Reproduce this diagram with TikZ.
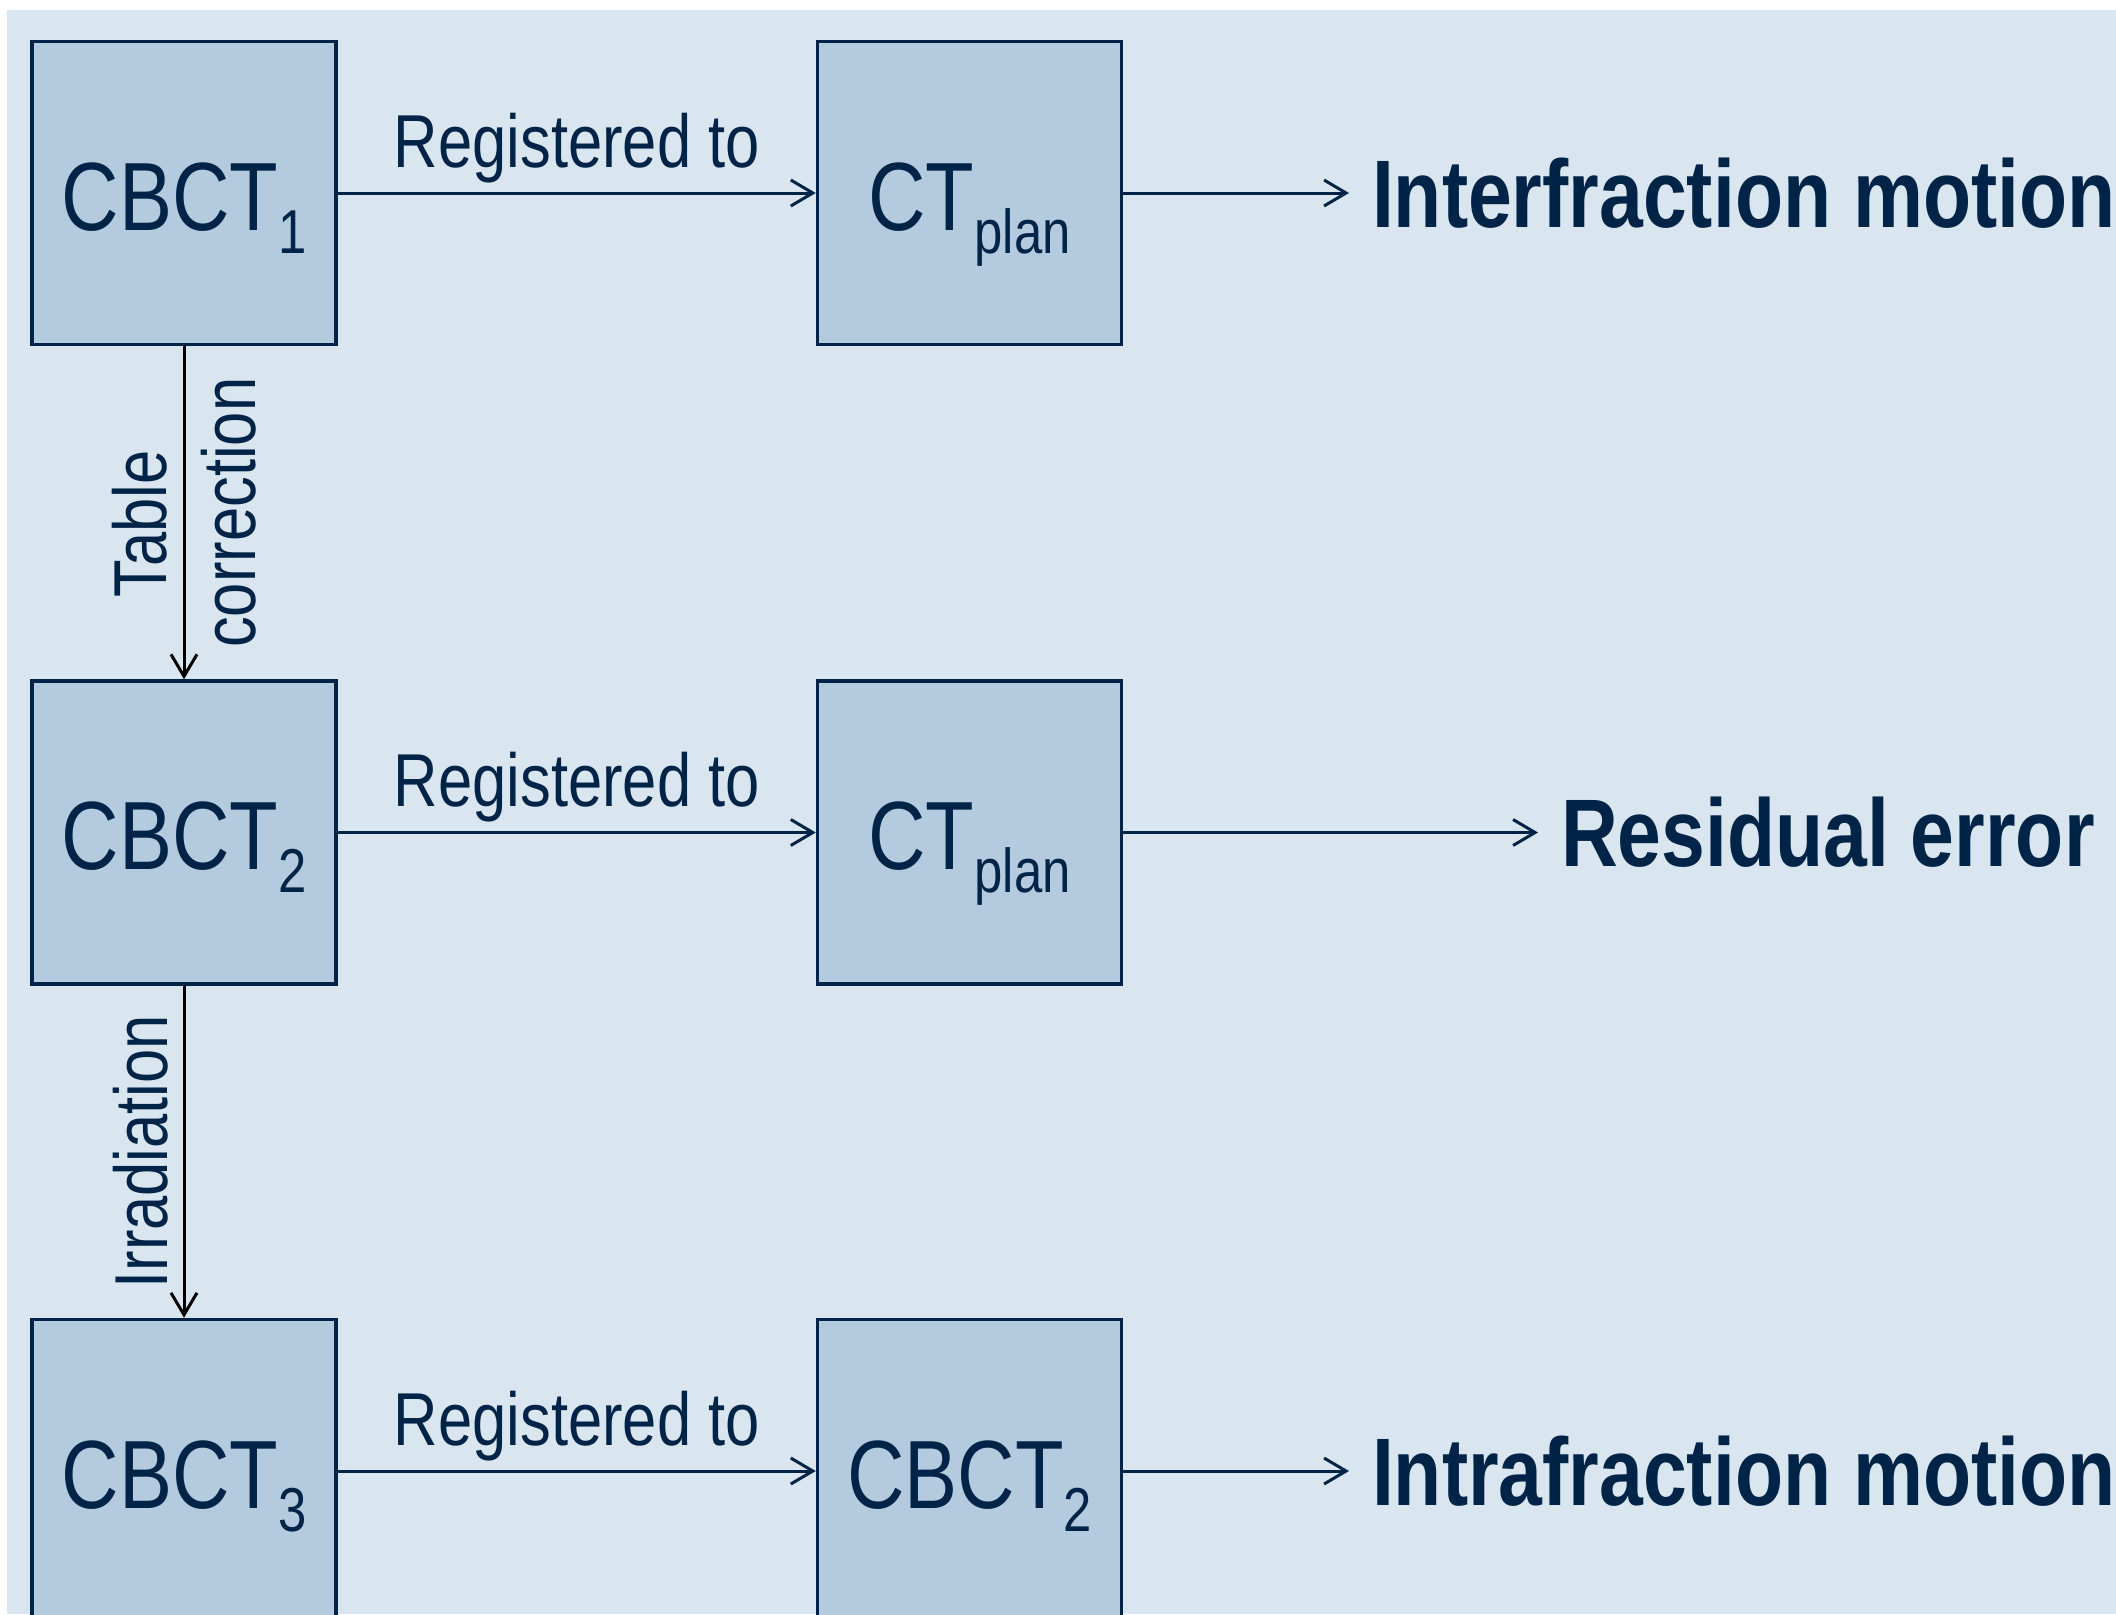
\documentclass[tikz,border=0pt]{standalone}
\usepackage{fontspec}
\setmainfont[FakeStretch=0.82]{Liberation Sans}
\usetikzlibrary{arrows.meta}
\definecolor{navy}{HTML}{002448}
\definecolor{bgblue}{HTML}{DAE6EF}
\definecolor{boxblue}{HTML}{B4CBDF}
\newcommand\lowsub[1]{\raisebox{-23pt}{\fontsize{62}{62}\selectfont #1}}
\begin{document}
\begin{tikzpicture}[x=1pt,y=-1pt,
  imgbox/.style={draw=navy, fill=boxblue, line width=3.5pt, minimum width=304pt, minimum height=303pt, inner sep=0pt, text height=74pt, text depth=0pt, text=navy, font=\fontsize{97}{97}\selectfont},
  conn/.style={draw=navy, line width=3pt, -{Straight Barb[length=22pt,width=26pt]}},
  vconn/.style={conn, draw=black},
  reglabel/.style={text=navy, font=\fontsize{75}{89}\selectfont, inner sep=0pt},
  result/.style={text=navy, font=\fontsize{96}{96}\selectfont\bfseries, inner sep=0pt, anchor=west, outer xsep=23pt}
]
\useasboundingbox (0,0) rectangle (2116,1614);
\clip (0,0) rectangle (2116,1614);
\fill[bgblue] (7,10) rectangle (2116,1614);

\node[imgbox] (c1) at (184,193) {CBCT\lowsub{1}};
\node[imgbox] (p1) at (969.5,193) {CT\lowsub{plan}};
\node[imgbox] (c2) at (184,832.5) {CBCT\lowsub{2}};
\node[imgbox] (p2) at (969.5,832.5) {CT\lowsub{plan}};
\node[imgbox] (c3) at (184,1471) {CBCT\lowsub{3}};
\node[imgbox] (q3) at (969.5,1471) {CBCT\lowsub{2}};

\node[result] (r1) at (1349,193) {Interfraction motion};
\node[result] (r2) at (1538,832.5) {Residual error};
\node[result] (r3) at (1349,1471) {Intrafraction motion};

\draw[conn] (c1) -- node[reglabel, anchor=base, yshift=26pt] {Registered to} (p1);
\draw[conn] (c2) -- node[reglabel, anchor=base, yshift=26pt] {Registered to} (p2);
\draw[conn] (c3) -- node[reglabel, anchor=base, yshift=26pt] {Registered to} (q3);

\draw[conn] (p1) -- (r1);
\draw[conn] (p2) -- (r2);
\draw[conn] (q3) -- (r3);

\draw[vconn] (c1) -- node[reglabel, rotate=90, align=center, anchor=center] {\hspace*{-22pt}Table\\correction} (c2);
\draw[vconn] (c2) -- node[reglabel, rotate=90, anchor=south, outer ysep=16pt] {Irradiation} (c3);
\end{tikzpicture}
\end{document}
